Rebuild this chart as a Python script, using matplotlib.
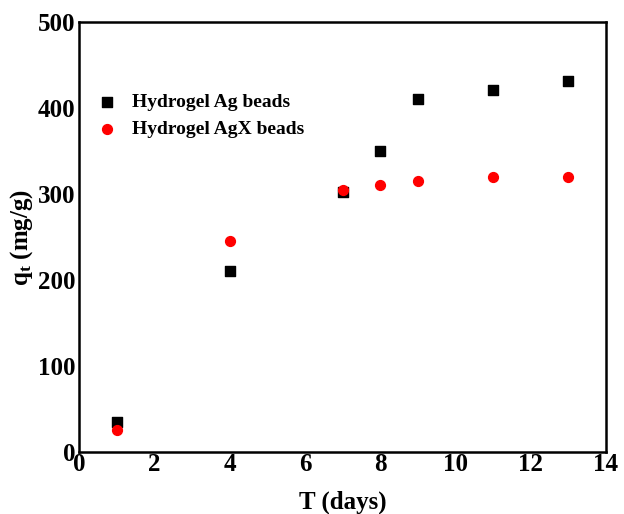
import matplotlib
matplotlib.use('Agg')
import matplotlib.pyplot as plt

# Adsorption capacity vs time
days_ag = [1, 4, 7, 8, 9, 11, 13]
qt_ag = [35, 210, 302, 350, 410, 421, 431]
days_agx = [1, 4, 7, 8, 9, 11, 13]
qt_agx = [25, 245, 305, 310, 315, 320, 320]

plt.rcParams['font.family'] = ['Liberation Serif', 'DejaVu Serif']
plt.rcParams['font.weight'] = 'bold'
plt.rcParams['mathtext.fontset'] = 'custom'
plt.rcParams['mathtext.rm'] = 'Liberation Serif'
plt.rcParams['mathtext.bf'] = 'Liberation Serif:bold'

fig = plt.figure(figsize=(6.24, 5.14), dpi=100)
ax = fig.add_axes([0.127, 0.121, 0.844, 0.836])

ax.scatter(days_ag, qt_ag, marker='s', s=45, color='black', label='Hydrogel Ag beads')
ax.scatter(days_agx, qt_agx, marker='o', s=50, color='red', label='Hydrogel AgX beads')

ax.set_xlim(0, 14)
ax.set_ylim(0, 500)
ax.set_xticks(range(0, 15, 2))
ax.set_yticks(range(0, 501, 100))
ax.tick_params(length=0, labelsize=18)
ax.tick_params(axis='x', pad=1)
ax.tick_params(axis='y', pad=3)
for lbl in ax.get_xticklabels() + ax.get_yticklabels():
    lbl.set_fontweight('bold')
for sp in ax.spines.values():
    sp.set_linewidth(1.8)

ax.set_xlabel('T (days)', fontsize=18, fontweight='bold', labelpad=10)
ax.set_ylabel(r'$\mathbf{q_t}$ (mg/g)', fontsize=18, fontweight='bold', labelpad=2)

ax.legend(loc='upper left', bbox_to_anchor=(0.035, 0.833), frameon=False,
          prop={'size': 14, 'weight': 'bold'}, handlelength=1.0,
          handletextpad=0.75, labelspacing=0.45, borderaxespad=0, borderpad=0)

fig.savefig('out.png', dpi=100)
